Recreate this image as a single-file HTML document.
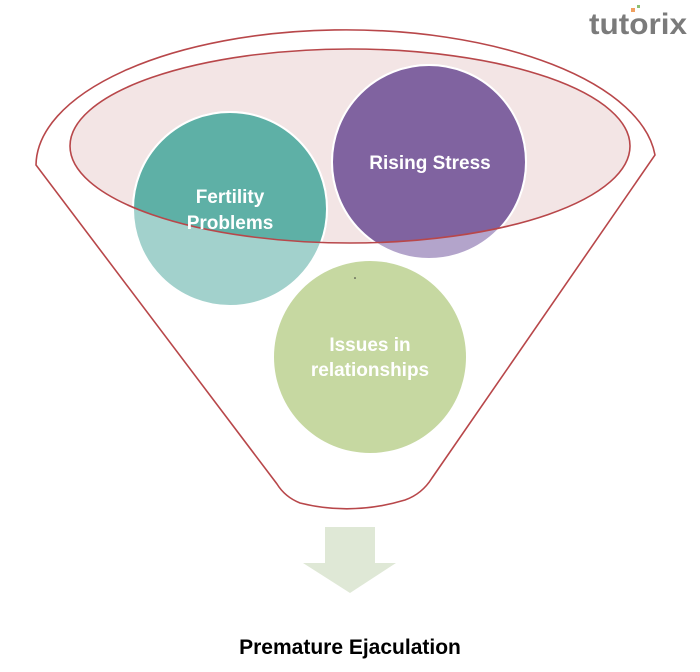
<!DOCTYPE html>
<html><head><meta charset="utf-8"><style>
html,body{margin:0;padding:0;background:#fff;width:700px;height:672px;overflow:hidden}
</style></head><body>
<svg width="700" height="672" viewBox="0 0 700 672" xmlns="http://www.w3.org/2000/svg" font-family="Liberation Sans, sans-serif">
<defs>
<clipPath id="ell"><ellipse cx="350" cy="146" rx="280" ry="97"/></clipPath>
</defs>
<path d="M36,165 A310,136 0 0 1 655,155 L432,478 Q422,494 405,500 Q352,516 300,503 Q285,497 277,484 Z" fill="#fff" stroke="#b8474a" stroke-width="1.6"/>
<ellipse cx="350" cy="146" rx="280" ry="97" fill="#f3e5e5"/>
<circle cx="230" cy="209" r="97" fill="#a2d1cc" stroke="#fff" stroke-width="2"/>
<circle cx="429" cy="162" r="97" fill="#b3a4cb" stroke="#fff" stroke-width="2"/>
<g clip-path="url(#ell)">
<circle cx="230" cy="209" r="97" fill="#5eb0a6" stroke="#fff" stroke-width="2"/>
<circle cx="429" cy="162" r="97" fill="#8063a0" stroke="#fff" stroke-width="2"/>
</g>
<ellipse cx="350" cy="146" rx="280" ry="97" fill="none" stroke="#b8474a" stroke-width="1.6"/>
<circle cx="370" cy="357" r="96" fill="#c6d8a1"/>
<circle cx="355" cy="278" r="0.8" fill="#333"/>
<g fill="#fff" font-weight="bold" font-size="19" text-anchor="middle">
<text x="230" y="203">Fertility</text>
<text x="230" y="229">Problems</text>
<text x="430" y="169">Rising Stress</text>
<text x="370" y="351">Issues in</text>
<text x="370" y="376">relationships</text>
</g>
<path d="M325,527 H375 V563 H396 L350,593 L303,563 H325 Z" fill="#dfe8d6"/>
<text x="350" y="654" text-anchor="middle" font-weight="bold" font-size="21" fill="#000">Premature Ejaculation</text>
<text x="589" y="34" font-weight="bold" font-size="30" fill="#7b7b7b" textLength="98" lengthAdjust="spacingAndGlyphs">tutorix</text>
<rect x="631" y="8" width="4" height="4" fill="#f0a060"/>
<rect x="637" y="5" width="3" height="3" fill="#8cc070"/>
</svg>
</body></html>
